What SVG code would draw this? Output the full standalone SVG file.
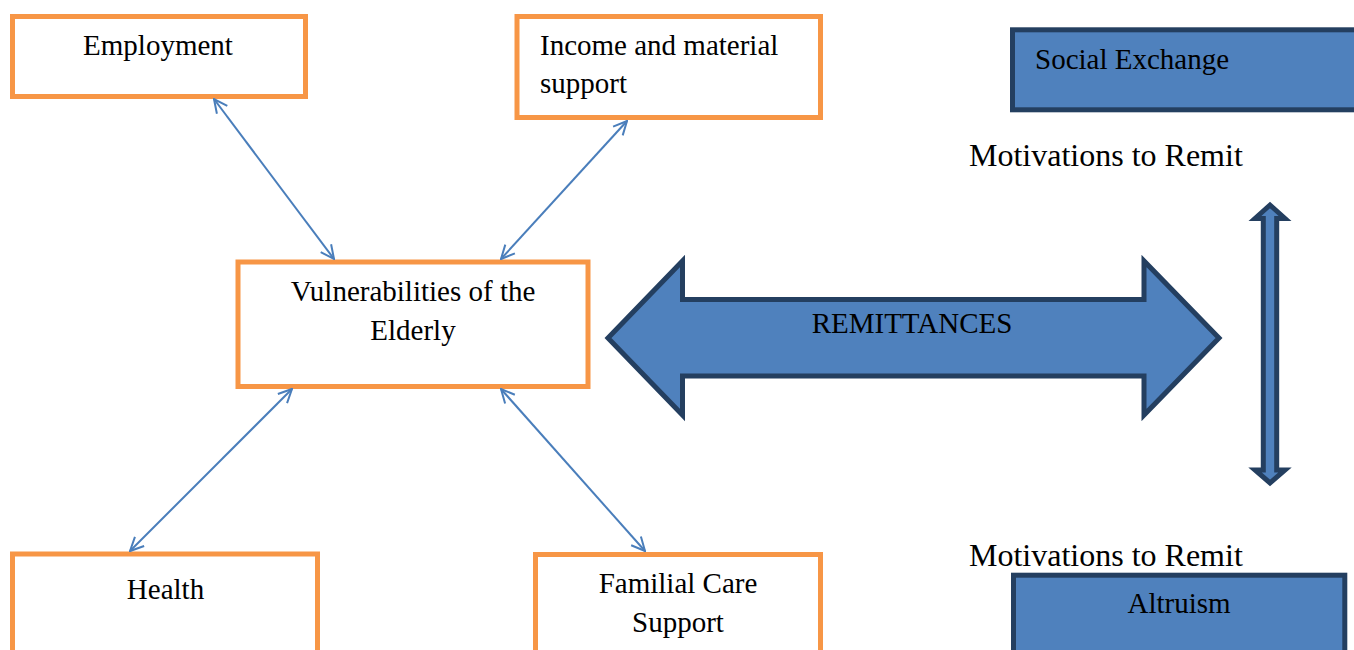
<svg xmlns="http://www.w3.org/2000/svg" width="1354" height="650" viewBox="0 0 1354 650">
<style>
.box{fill:#FFFFFF;stroke:#F79646;stroke-width:5}
.blue{fill:#4F81BD;stroke:#243F60;stroke-width:5;stroke-linejoin:miter}
.t{font-family:"Liberation Serif","Times New Roman",serif;font-size:29px;fill:#000}
.m{font-family:"Liberation Serif","Times New Roman",serif;font-size:32px;fill:#000}
.c{fill:none;stroke:#4A7EBB;stroke-width:2}
</style>
<defs>
<marker id="ah" viewBox="0 0 16 16" refX="15" refY="8" markerWidth="16" markerHeight="16" markerUnits="userSpaceOnUse" orient="auto-start-reverse">
<path d="M1.5,1.5 L15,8 L1.5,14.5" fill="none" stroke="#4A7EBB" stroke-width="2"/>
</marker>
</defs>
<rect width="1354" height="650" fill="#FFFFFF"/>
<g id="employment">
<rect class="box" x="12.5" y="16.5" width="293" height="80"/>
<text class="t" x="158" y="55" text-anchor="middle">Employment</text>
</g>
<g id="income">
<rect class="box" x="517" y="16.5" width="303.5" height="101"/>
<text class="t" x="540" y="55">Income and material</text>
<text class="t" x="540" y="93">support</text>
</g>
<g id="vulnerabilities">
<rect class="box" x="238" y="262" width="350" height="124.5"/>
<text class="t" x="413" y="301" text-anchor="middle">Vulnerabilities of the</text>
<text class="t" x="413" y="340" text-anchor="middle">Elderly</text>
</g>
<g id="health">
<rect class="box" x="12.5" y="554" width="305" height="120"/>
<text class="t" x="165.5" y="599" text-anchor="middle">Health</text>
</g>
<g id="familial">
<rect class="box" x="535.5" y="554.5" width="285" height="120"/>
<text class="t" x="678" y="593" text-anchor="middle">Familial Care</text>
<text class="t" x="678" y="632" text-anchor="middle">Support</text>
</g>
<g id="remittances">
<path class="blue" d="M608,338 L682.5,261 L682.5,299.5 L1144,299.5 L1144,261 L1219,338 L1144,415 L1144,376 L682.5,376 L682.5,415 Z"/>
<text class="t" x="912" y="333" text-anchor="middle">REMITTANCES</text>
</g>
<g id="social-exchange">
<rect class="blue" x="1012.5" y="29.8" width="360" height="80"/>
<text class="t" x="1035" y="69">Social Exchange</text>
</g>
<g id="motivations-top">
<text class="m" x="969" y="166">Motivations to Remit</text>
</g>
<g id="vertical-arrow">
<path class="blue" d="M1270,205 L1285,218.5 L1276.7,218.5 L1276.7,470 L1285,470 L1270,483 L1255,470 L1263.3,470 L1263.3,218.5 L1255,218.5 Z"/>
</g>
<g id="motivations-bottom">
<text class="m" x="969" y="566">Motivations to Remit</text>
</g>
<g id="altruism">
<rect class="blue" x="1013.5" y="575.2" width="331.3" height="120"/>
<text class="t" x="1179" y="613" text-anchor="middle">Altruism</text>
</g>
<g id="connectors">
<line class="c" x1="214" y1="99" x2="334" y2="259" marker-start="url(#ah)" marker-end="url(#ah)"/>
<line class="c" x1="627" y1="121" x2="501" y2="259" marker-start="url(#ah)" marker-end="url(#ah)"/>
<line class="c" x1="292" y1="389" x2="130" y2="551" marker-start="url(#ah)" marker-end="url(#ah)"/>
<line class="c" x1="501" y1="389" x2="645" y2="551" marker-start="url(#ah)" marker-end="url(#ah)"/>
</g>
</svg>
